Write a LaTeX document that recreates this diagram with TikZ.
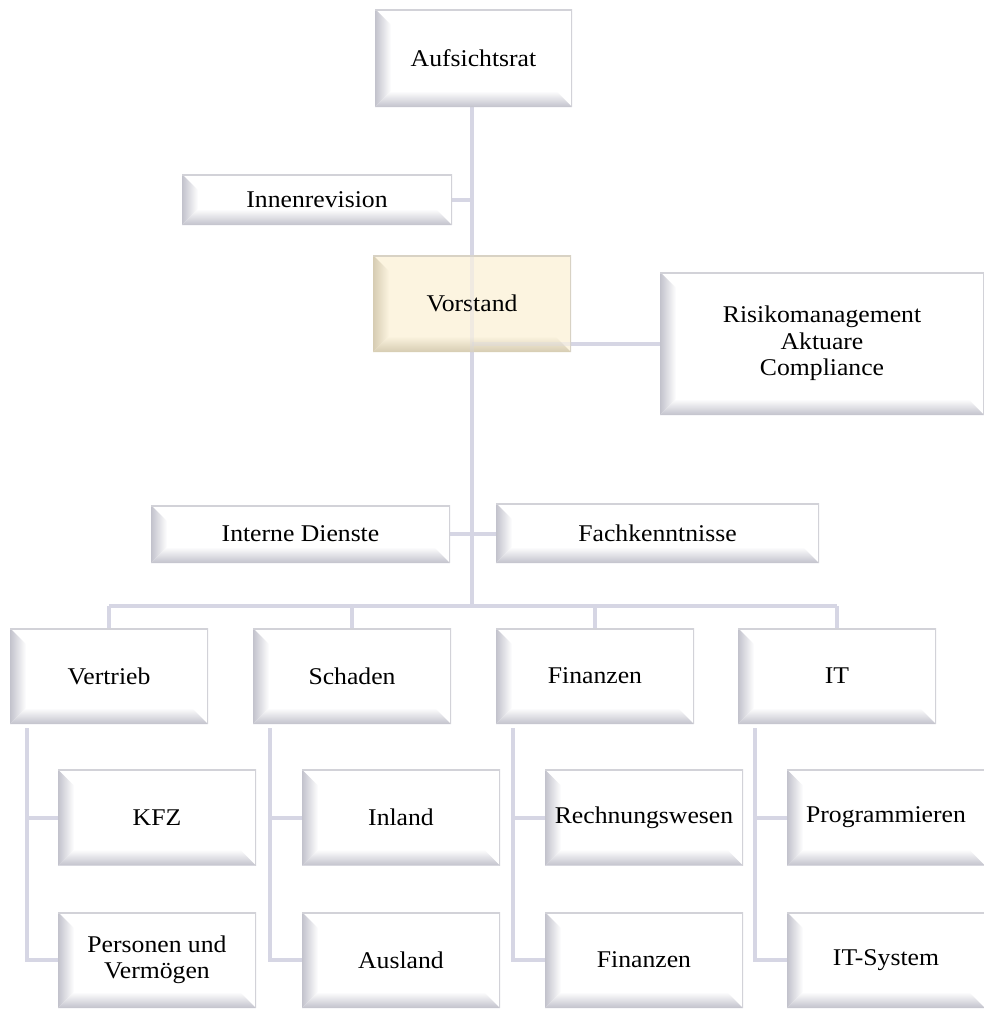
\documentclass[tikz,border=0pt]{standalone}
\usepackage{fontspec}
\setmainfont{Liberation Serif}[FakeStretch=1.07]
\usetikzlibrary{calc,backgrounds}
\definecolor{conncol}{HTML}{D6D6E4}
\definecolor{bevdark}{HTML}{C2C2CC}
\definecolor{framecol}{HTML}{D2D2D8}
\definecolor{cream}{HTML}{FCF4E0}
\definecolor{creamdark}{HTML}{D6CCB2}
\definecolor{creamframe}{HTML}{D8D2C4}
\tikzset{
  conn/.style={draw=conncol, line width=4pt, line join=miter},
  bevelgen/.style n args={3}{rectangle, inner sep=0pt, align=center,
    font=\fontsize{24}{26.5}\selectfont,
    path picture={
      \coordinate (bSW) at (path picture bounding box.south west);
      \coordinate (bNE) at (path picture bounding box.north east);
      \coordinate (bNW) at (bSW |- bNE);
      \coordinate (bSE) at (bNE |- bSW);
      \fill[#1] (bSW) rectangle (bNE);
      \shade[left color=#2, right color=#1] (bSW) -- (bNW) -- ($(bNW)+(16pt,-16pt)$) -- ($(bSW)+(16pt,16pt)$) -- cycle;
      \shade[top color=#1, bottom color=#2] (bSW) -- ($(bSW)+(16pt,16pt)$) -- ($(bSE)+(-16pt,16pt)$) -- (bSE) -- cycle;
      \draw[#3, line width=3pt] (bNW) -- (bNE) -- (bSE);
    }},
  bevelbox/.style={bevelgen={white}{bevdark}{framecol}},
  bevelcream/.style={bevelgen={cream}{creamdark}{creamframe}},
  topbox/.style={minimum width=198pt, minimum height=96pt},
  subbox/.style={minimum width=198pt, minimum height=96pt},
}
\begin{document}
\begin{tikzpicture}[x=1pt, y=-1pt]
\useasboundingbox (0,0) rectangle (984,1010);

\node[bevelbox, minimum width=197pt, minimum height=98pt] (aufs) at (473.5,58) {Aufsichtsrat};
\node[bevelbox, minimum width=270pt, minimum height=51pt] (innen) at (317,199.5) {Innenrevision};
\node[bevelcream, minimum width=198pt, minimum height=97pt] (vor) at (472,303.5) {Vorstand};
\node[bevelbox, minimum width=324pt, minimum height=143pt] (risk) at (822,343.5) {Risikomanagement\\Aktuare\\Compliance};
\node[bevelbox, minimum width=299pt, minimum height=58pt] (intd) at (300.5,534) {Interne Dienste};
\node[bevelbox, minimum width=323pt, minimum height=60pt] (fach) at (657.5,533) {Fachkenntnisse};

\node[bevelbox, topbox] (l1) at (109,676) {Vertrieb};
\node[bevelbox, topbox] (l2) at (352,676) {Schaden};
\node[bevelbox, topbox] (l3) at (595,676) {Finanzen};
\node[bevelbox, topbox] (l4) at (837,676) {IT};

\node[bevelbox, subbox] (s1a) at (157,817.5) {KFZ};
\node[bevelbox, subbox] (s1b) at (157,960) {Personen und\\Vermögen};
\node[bevelbox, subbox] (s2a) at (401,817.5) {Inland};
\node[bevelbox, subbox] (s2b) at (401,960) {Ausland};
\node[bevelbox, subbox] (s3a) at (644,817.5) {Rechnungswesen};
\node[bevelbox, subbox] (s3b) at (644,960) {Finanzen};
\node[bevelbox, subbox] (s4a) at (886,817.5) {Programmieren};
\node[bevelbox, subbox] (s4b) at (886,960) {IT-System};

\coordinate (bus) at (472,606);

\begin{scope}[on background layer]
  \draw[conn] (vor.center |- aufs.south) -- (bus);
  \draw[conn] (innen.east) -- (innen.east -| vor.center);
  \draw[conn] (risk.west) -- (risk.west -| vor.center);
  \draw[conn] (intd.east) -- (intd.east -| fach.west);
  \draw[conn] (l1.north |- bus) -- (l4.north |- bus);
  \foreach \n in {l1,l2,l3,l4} {
    \draw[conn] (\n.north |- bus) -- (\n.north);
  }
  \foreach \p/\a/\b in {l1/s1a/s1b, l2/s2a/s2b, l3/s3a/s3b, l4/s4a/s4b} {
    \draw[conn] ($(\p.south west)+(17pt,-4pt)$) |- (\b.west);
    \draw[conn] ($(\p.south west)+(17pt,-4pt)$) |- (\a.west);
  }
\end{scope}

% connectors faintly visible through the translucent Vorstand box
\draw[conn, opacity=0.3] (vor.north) -- (vor.south);
\draw[conn, opacity=0.3] (vor.center |- risk.west) -- (risk.west -| vor.east);
\end{tikzpicture}
\end{document}
